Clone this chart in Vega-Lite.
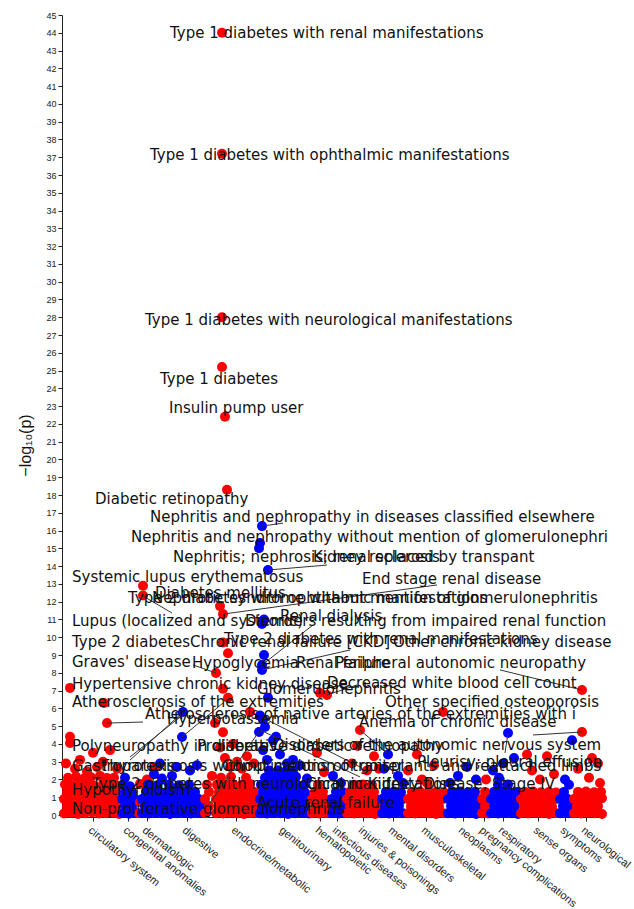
{
"$schema":"https://vega.github.io/schema/vega-lite/v6.json",
"width":542,"height":800,"autosize":"none",
"padding":{"left":62,"top":15,"right":30,"bottom":94},
"background":"white",
"config":{"view":{"stroke":null},"axis":{"grid":false}},
"datasets":{
"thr":[{"y":4.44,"k":"bonferroni"},{"y":1.3,"k":"nominal"}],
"pts":[
{"g":1,"x":2,"y":0.08},{"g":1,"x":9,"y":0.12},{"g":1,"x":16,"y":0.06},{"g":1,"x":23,"y":0.1},{"g":1,"x":30,"y":0.14},{"g":1,"x":37,"y":0.08},{"g":1,"x":44,"y":0.1},{"g":1,"x":51,"y":0.12},{"g":1,"x":57,"y":0.06},
{"g":1,"x":5,"y":0.5},{"g":1,"x":12,"y":0.46},{"g":1,"x":19,"y":0.52},{"g":1,"x":26,"y":0.48},{"g":1,"x":33,"y":0.5},{"g":1,"x":40,"y":0.45},{"g":1,"x":47,"y":0.53},{"g":1,"x":54,"y":0.5},
{"g":1,"x":2,"y":0.9},{"g":1,"x":9,"y":0.88},{"g":1,"x":16,"y":0.94},{"g":1,"x":23,"y":0.9},{"g":1,"x":30,"y":0.86},{"g":1,"x":37,"y":0.92},{"g":1,"x":44,"y":0.9},{"g":1,"x":51,"y":0.95},{"g":1,"x":57,"y":0.88},
{"g":1,"x":5,"y":1.3},{"g":1,"x":12,"y":1.34},{"g":1,"x":19,"y":1.28},{"g":1,"x":26,"y":1.32},{"g":1,"x":33,"y":1.3},{"g":1,"x":40,"y":1.26},{"g":1,"x":47,"y":1.35},{"g":1,"x":54,"y":1.3},
{"g":1,"x":3,"y":1.72},{"g":1,"x":10,"y":1.68},{"g":1,"x":18,"y":1.75},{"g":1,"x":25,"y":1.7},{"g":1,"x":32,"y":1.66},{"g":1,"x":41,"y":1.74},{"g":1,"x":48,"y":1.7},{"g":1,"x":55,"y":1.65},
{"g":1,"x":6,"y":2.1},{"g":1,"x":14,"y":2.15},{"g":1,"x":22,"y":2.05},{"g":1,"x":29,"y":2.12},{"g":1,"x":38,"y":2.2},{"g":1,"x":45,"y":2.08},{"g":1,"x":52,"y":2.1},
{"g":1,"x":8,"y":7.15},{"g":1,"x":42,"y":6.3},{"g":1,"x":45,"y":5.17},{"g":1,"x":8,"y":4.4},{"g":1,"x":8,"y":4.05},{"g":1,"x":31,"y":3.5},{"g":1,"x":48,"y":3.65},{"g":1,"x":41,"y":3.0},{"g":1,"x":25,"y":2.45},{"g":1,"x":13,"y":2.6},{"g":1,"x":35,"y":2.7},{"g":1,"x":18,"y":3.1},{"g":1,"x":55,"y":2.6},{"g":1,"x":4,"y":2.9},
{"g":2,"x":60,"y":0.1},{"g":2,"x":67,"y":0.07},{"g":2,"x":73,"y":0.12},{"g":2,"x":63,"y":0.5},{"g":2,"x":70,"y":0.48},{"g":2,"x":60,"y":0.9},{"g":2,"x":67,"y":0.92},{"g":2,"x":73,"y":0.88},{"g":2,"x":63,"y":1.3},{"g":2,"x":70,"y":1.28},{"g":2,"x":61,"y":1.7},{"g":2,"x":68,"y":1.62},{"g":2,"x":63,"y":2.1},
{"g":3,"x":77,"y":0.1},{"g":3,"x":84,"y":0.3},{"g":3,"x":78,"y":0.7},{"g":3,"x":78,"y":1.75},{"g":3,"x":85,"y":2.0},{"g":3,"x":92,"y":2.6},{"g":3,"x":81,"y":12.9},{"g":3,"x":81,"y":12.35},
{"g":4,"x":80,"y":0.1},{"g":4,"x":87,"y":0.08},{"g":4,"x":94,"y":0.12},{"g":4,"x":101,"y":0.1},{"g":4,"x":108,"y":0.06},{"g":4,"x":115,"y":0.1},{"g":4,"x":122,"y":0.12},{"g":4,"x":129,"y":0.08},{"g":4,"x":136,"y":0.1},
{"g":4,"x":83,"y":0.5},{"g":4,"x":90,"y":0.48},{"g":4,"x":97,"y":0.52},{"g":4,"x":104,"y":0.5},{"g":4,"x":111,"y":0.46},{"g":4,"x":118,"y":0.5},{"g":4,"x":125,"y":0.53},{"g":4,"x":132,"y":0.49},{"g":4,"x":139,"y":0.5},
{"g":4,"x":80,"y":0.9},{"g":4,"x":87,"y":0.92},{"g":4,"x":94,"y":0.88},{"g":4,"x":101,"y":0.9},{"g":4,"x":108,"y":0.94},{"g":4,"x":115,"y":0.9},{"g":4,"x":122,"y":0.86},{"g":4,"x":129,"y":0.9},{"g":4,"x":136,"y":0.92},
{"g":4,"x":84,"y":1.3},{"g":4,"x":91,"y":1.32},{"g":4,"x":98,"y":1.28},{"g":4,"x":105,"y":1.3},{"g":4,"x":112,"y":1.34},{"g":4,"x":119,"y":1.3},{"g":4,"x":126,"y":1.27},{"g":4,"x":133,"y":1.3},
{"g":4,"x":86,"y":1.7},{"g":4,"x":95,"y":1.66},{"g":4,"x":107,"y":1.72},{"g":4,"x":117,"y":1.68},{"g":4,"x":127,"y":1.7},
{"g":4,"x":121,"y":5.79},{"g":4,"x":120,"y":4.39},{"g":4,"x":92,"y":2.3},{"g":4,"x":110,"y":2.2},{"g":4,"x":128,"y":2.5},{"g":4,"x":100,"y":2.05},{"g":4,"x":135,"y":2.8},{"g":4,"x":98,"y":2.9},{"g":4,"x":115,"y":2.7},
{"g":5,"x":143,"y":0.1},{"g":5,"x":147,"y":0.5},{"g":5,"x":143,"y":0.9},{"g":5,"x":147,"y":1.3},{"g":5,"x":145,"y":1.7},{"g":5,"x":150,"y":2.2},
{"g":5,"x":154,"y":0.1},{"g":5,"x":161,"y":0.08},{"g":5,"x":168,"y":0.12},{"g":5,"x":175,"y":0.1},{"g":5,"x":182,"y":0.06},{"g":5,"x":189,"y":0.1},{"g":5,"x":195,"y":0.12},
{"g":5,"x":157,"y":0.5},{"g":5,"x":164,"y":0.48},{"g":5,"x":171,"y":0.52},{"g":5,"x":178,"y":0.5},{"g":5,"x":185,"y":0.46},{"g":5,"x":192,"y":0.5},
{"g":5,"x":154,"y":0.9},{"g":5,"x":161,"y":0.92},{"g":5,"x":168,"y":0.88},{"g":5,"x":175,"y":0.9},{"g":5,"x":182,"y":0.94},{"g":5,"x":189,"y":0.9},{"g":5,"x":195,"y":0.86},
{"g":5,"x":157,"y":1.3},{"g":5,"x":164,"y":1.32},{"g":5,"x":171,"y":1.28},{"g":5,"x":178,"y":1.3},{"g":5,"x":185,"y":1.34},{"g":5,"x":192,"y":1.3},
{"g":5,"x":155,"y":1.7},{"g":5,"x":163,"y":1.72},{"g":5,"x":172,"y":1.68},{"g":5,"x":180,"y":1.7},{"g":5,"x":188,"y":1.74},
{"g":5,"x":159,"y":2.1},{"g":5,"x":169,"y":2.15},{"g":5,"x":184,"y":2.1},
{"g":5,"x":160,"y":44.0},{"g":5,"x":160,"y":37.2},{"g":5,"x":160,"y":28.0},{"g":5,"x":160,"y":25.2},{"g":5,"x":163,"y":22.4},{"g":5,"x":165,"y":18.3},{"g":5,"x":158,"y":11.75},{"g":5,"x":161,"y":11.3},{"g":5,"x":161,"y":9.7},{"g":5,"x":166,"y":9.1},{"g":5,"x":154,"y":7.99},{"g":5,"x":161,"y":7.1},{"g":5,"x":166,"y":6.6},{"g":5,"x":188,"y":5.8},{"g":5,"x":153,"y":5.17},{"g":5,"x":161,"y":4.65},{"g":5,"x":171,"y":4.0},{"g":5,"x":158,"y":3.8},{"g":5,"x":185,"y":3.3},{"g":5,"x":175,"y":3.0},{"g":5,"x":168,"y":2.7},{"g":5,"x":180,"y":2.6},{"g":5,"x":192,"y":2.9},{"g":5,"x":163,"y":3.2},
{"g":6,"x":198,"y":0.1},{"g":6,"x":205,"y":0.08},{"g":6,"x":212,"y":0.12},{"g":6,"x":219,"y":0.1},{"g":6,"x":226,"y":0.06},{"g":6,"x":233,"y":0.1},{"g":6,"x":240,"y":0.12},{"g":6,"x":247,"y":0.08},
{"g":6,"x":201,"y":0.5},{"g":6,"x":208,"y":0.48},{"g":6,"x":215,"y":0.52},{"g":6,"x":222,"y":0.5},{"g":6,"x":229,"y":0.46},{"g":6,"x":236,"y":0.5},{"g":6,"x":243,"y":0.53},
{"g":6,"x":198,"y":0.9},{"g":6,"x":205,"y":0.92},{"g":6,"x":212,"y":0.88},{"g":6,"x":219,"y":0.9},{"g":6,"x":226,"y":0.94},{"g":6,"x":233,"y":0.9},{"g":6,"x":240,"y":0.86},{"g":6,"x":247,"y":0.9},
{"g":6,"x":201,"y":1.3},{"g":6,"x":208,"y":1.32},{"g":6,"x":215,"y":1.28},{"g":6,"x":222,"y":1.3},{"g":6,"x":229,"y":1.34},{"g":6,"x":236,"y":1.3},{"g":6,"x":243,"y":1.27},
{"g":6,"x":199,"y":1.7},{"g":6,"x":206,"y":1.72},{"g":6,"x":214,"y":1.68},{"g":6,"x":221,"y":1.7},{"g":6,"x":228,"y":1.74},{"g":6,"x":235,"y":1.7},{"g":6,"x":242,"y":1.66},
{"g":6,"x":203,"y":2.1},{"g":6,"x":211,"y":2.12},{"g":6,"x":219,"y":2.08},{"g":6,"x":227,"y":2.1},{"g":6,"x":234,"y":2.15},{"g":6,"x":245,"y":2.05},
{"g":6,"x":207,"y":2.5},{"g":6,"x":216,"y":2.52},{"g":6,"x":224,"y":2.48},{"g":6,"x":231,"y":2.5},
{"g":6,"x":200,"y":16.25},{"g":6,"x":198,"y":15.3},{"g":6,"x":197,"y":15.0},{"g":6,"x":206,"y":13.78},{"g":6,"x":202,"y":11.0},{"g":6,"x":200,"y":10.75},{"g":6,"x":202,"y":9.0},{"g":6,"x":200,"y":8.44},{"g":6,"x":200,"y":8.16},{"g":6,"x":206,"y":6.6},{"g":6,"x":198,"y":5.6},{"g":6,"x":201,"y":5.35},{"g":6,"x":203,"y":4.95},{"g":6,"x":197,"y":4.67},{"g":6,"x":211,"y":4.2},{"g":6,"x":214,"y":4.4},{"g":6,"x":201,"y":3.65},{"g":6,"x":218,"y":3.4},{"g":6,"x":231,"y":3.1},{"g":6,"x":205,"y":3.1},{"g":6,"x":225,"y":2.9},{"g":6,"x":238,"y":2.8},
{"g":7,"x":250,"y":0.1},{"g":7,"x":257,"y":0.08},{"g":7,"x":264,"y":0.12},{"g":7,"x":253,"y":0.5},{"g":7,"x":260,"y":0.48},{"g":7,"x":267,"y":0.52},{"g":7,"x":250,"y":0.9},{"g":7,"x":257,"y":0.92},{"g":7,"x":264,"y":0.88},{"g":7,"x":253,"y":1.3},{"g":7,"x":261,"y":1.32},{"g":7,"x":256,"y":1.7},{"g":7,"x":258,"y":6.86},{"g":7,"x":265,"y":6.75},{"g":7,"x":255,"y":3.5},{"g":7,"x":262,"y":2.4},
{"g":8,"x":270,"y":0.1},{"g":8,"x":277,"y":0.08},{"g":8,"x":283,"y":0.12},{"g":8,"x":273,"y":0.5},{"g":8,"x":280,"y":0.48},{"g":8,"x":270,"y":0.9},{"g":8,"x":277,"y":0.92},{"g":8,"x":283,"y":0.88},{"g":8,"x":274,"y":1.3},{"g":8,"x":281,"y":1.28},{"g":8,"x":271,"y":2.2},{"g":8,"x":279,"y":1.8},
{"g":9,"x":285,"y":0.1},{"g":9,"x":292,"y":0.08},{"g":9,"x":299,"y":0.12},{"g":9,"x":306,"y":0.1},{"g":9,"x":313,"y":0.06},{"g":9,"x":318,"y":0.1},
{"g":9,"x":288,"y":0.5},{"g":9,"x":295,"y":0.48},{"g":9,"x":302,"y":0.52},{"g":9,"x":309,"y":0.5},{"g":9,"x":316,"y":0.46},
{"g":9,"x":285,"y":0.9},{"g":9,"x":292,"y":0.92},{"g":9,"x":299,"y":0.88},{"g":9,"x":306,"y":0.9},{"g":9,"x":313,"y":0.94},
{"g":9,"x":288,"y":1.3},{"g":9,"x":296,"y":1.32},{"g":9,"x":304,"y":1.28},{"g":9,"x":312,"y":1.3},
{"g":9,"x":292,"y":1.7},{"g":9,"x":301,"y":1.72},{"g":9,"x":310,"y":1.68},
{"g":9,"x":298,"y":4.78},{"g":9,"x":295,"y":3.9},{"g":9,"x":312,"y":3.3},{"g":9,"x":305,"y":2.5},{"g":9,"x":290,"y":2.9},{"g":9,"x":317,"y":2.6},
{"g":10,"x":320,"y":0.1},{"g":10,"x":327,"y":0.08},{"g":10,"x":334,"y":0.12},{"g":10,"x":341,"y":0.1},{"g":10,"x":323,"y":0.5},{"g":10,"x":330,"y":0.48},{"g":10,"x":337,"y":0.52},{"g":10,"x":320,"y":0.9},{"g":10,"x":327,"y":0.92},{"g":10,"x":334,"y":0.88},{"g":10,"x":341,"y":0.9},{"g":10,"x":324,"y":1.3},{"g":10,"x":332,"y":1.32},{"g":10,"x":339,"y":1.28},{"g":10,"x":326,"y":3.4},{"g":10,"x":336,"y":2.2},{"g":10,"x":322,"y":2.6},{"g":10,"x":341,"y":1.8},
{"g":11,"x":346,"y":0.1},{"g":11,"x":353,"y":0.08},{"g":11,"x":360,"y":0.12},{"g":11,"x":367,"y":0.1},{"g":11,"x":374,"y":0.06},{"g":11,"x":381,"y":0.1},
{"g":11,"x":349,"y":0.5},{"g":11,"x":356,"y":0.48},{"g":11,"x":363,"y":0.52},{"g":11,"x":370,"y":0.5},{"g":11,"x":377,"y":0.46},
{"g":11,"x":346,"y":0.9},{"g":11,"x":353,"y":0.92},{"g":11,"x":360,"y":0.88},{"g":11,"x":367,"y":0.9},{"g":11,"x":374,"y":0.94},{"g":11,"x":381,"y":0.9},
{"g":11,"x":350,"y":1.3},{"g":11,"x":358,"y":1.32},{"g":11,"x":366,"y":1.28},{"g":11,"x":374,"y":1.3},{"g":11,"x":382,"y":1.26},
{"g":11,"x":381,"y":5.8},{"g":11,"x":346,"y":2.5},{"g":11,"x":360,"y":2.0},{"g":11,"x":372,"y":2.8},{"g":11,"x":355,"y":3.4},{"g":11,"x":365,"y":1.8},
{"g":12,"x":386,"y":0.1},{"g":12,"x":393,"y":0.08},{"g":12,"x":400,"y":0.12},{"g":12,"x":407,"y":0.1},{"g":12,"x":414,"y":0.06},
{"g":12,"x":389,"y":0.5},{"g":12,"x":396,"y":0.48},{"g":12,"x":403,"y":0.52},{"g":12,"x":410,"y":0.5},{"g":12,"x":417,"y":0.46},
{"g":12,"x":386,"y":0.9},{"g":12,"x":393,"y":0.92},{"g":12,"x":400,"y":0.88},{"g":12,"x":407,"y":0.9},{"g":12,"x":414,"y":0.94},
{"g":12,"x":390,"y":1.3},{"g":12,"x":398,"y":1.32},{"g":12,"x":406,"y":1.28},{"g":12,"x":413,"y":1.3},
{"g":12,"x":396,"y":2.2},{"g":12,"x":405,"y":2.7},{"g":12,"x":414,"y":2.0},{"g":12,"x":388,"y":1.8},
{"g":13,"x":420,"y":0.1},{"g":13,"x":426,"y":0.08},{"g":13,"x":423,"y":0.5},{"g":13,"x":420,"y":0.9},{"g":13,"x":426,"y":0.92},{"g":13,"x":423,"y":1.3},{"g":13,"x":424,"y":2.0},
{"g":14,"x":429,"y":0.1},{"g":14,"x":436,"y":0.08},{"g":14,"x":443,"y":0.12},{"g":14,"x":450,"y":0.1},{"g":14,"x":456,"y":0.06},
{"g":14,"x":432,"y":0.5},{"g":14,"x":439,"y":0.48},{"g":14,"x":446,"y":0.52},{"g":14,"x":453,"y":0.5},
{"g":14,"x":429,"y":0.9},{"g":14,"x":436,"y":0.92},{"g":14,"x":443,"y":0.88},{"g":14,"x":450,"y":0.9},{"g":14,"x":456,"y":0.94},
{"g":14,"x":432,"y":1.3},{"g":14,"x":440,"y":1.32},{"g":14,"x":448,"y":1.28},{"g":14,"x":455,"y":1.3},
{"g":14,"x":436,"y":1.7},{"g":14,"x":446,"y":1.72},
{"g":14,"x":446,"y":4.61},{"g":14,"x":431,"y":2.5},{"g":14,"x":441,"y":2.9},{"g":14,"x":452,"y":3.2},{"g":14,"x":437,"y":2.1},
{"g":15,"x":459,"y":0.1},{"g":15,"x":466,"y":0.08},{"g":15,"x":473,"y":0.12},{"g":15,"x":480,"y":0.1},{"g":15,"x":487,"y":0.06},{"g":15,"x":494,"y":0.1},
{"g":15,"x":462,"y":0.5},{"g":15,"x":469,"y":0.48},{"g":15,"x":476,"y":0.52},{"g":15,"x":483,"y":0.5},{"g":15,"x":490,"y":0.46},
{"g":15,"x":459,"y":0.9},{"g":15,"x":466,"y":0.92},{"g":15,"x":473,"y":0.88},{"g":15,"x":480,"y":0.9},{"g":15,"x":487,"y":0.94},{"g":15,"x":494,"y":0.9},
{"g":15,"x":463,"y":1.3},{"g":15,"x":471,"y":1.32},{"g":15,"x":479,"y":1.28},{"g":15,"x":487,"y":1.3},{"g":15,"x":494,"y":1.27},
{"g":15,"x":465,"y":3.4},{"g":15,"x":485,"y":3.3},{"g":15,"x":470,"y":2.5},{"g":15,"x":492,"y":2.3},{"g":15,"x":478,"y":2.0},
{"g":16,"x":498,"y":0.1},{"g":16,"x":505,"y":0.12},{"g":16,"x":501,"y":0.5},{"g":16,"x":508,"y":0.48},{"g":16,"x":498,"y":0.9},{"g":16,"x":505,"y":0.92},{"g":16,"x":502,"y":1.3},{"g":16,"x":510,"y":4.2},{"g":16,"x":503,"y":2.0},{"g":16,"x":507,"y":1.7},
{"g":17,"x":512,"y":0.1},{"g":17,"x":519,"y":0.08},{"g":17,"x":526,"y":0.12},{"g":17,"x":533,"y":0.1},{"g":17,"x":540,"y":0.06},
{"g":17,"x":515,"y":0.5},{"g":17,"x":522,"y":0.48},{"g":17,"x":529,"y":0.52},{"g":17,"x":536,"y":0.5},
{"g":17,"x":512,"y":0.9},{"g":17,"x":519,"y":0.92},{"g":17,"x":526,"y":0.88},{"g":17,"x":533,"y":0.9},{"g":17,"x":540,"y":0.94},
{"g":17,"x":516,"y":1.3},{"g":17,"x":524,"y":1.32},{"g":17,"x":532,"y":1.28},{"g":17,"x":539,"y":1.3},
{"g":17,"x":520,"y":7.03},{"g":17,"x":520,"y":4.67},{"g":17,"x":536,"y":2.9},{"g":17,"x":516,"y":2.6},{"g":17,"x":527,"y":2.1},{"g":17,"x":538,"y":1.8},{"g":17,"x":530,"y":3.2}
],
"seg":[
{"x":200,"y":16.25,"x2":221,"y2":16.42},{"x":206,"y":13.78,"x2":265,"y2":14.06},{"x":81,"y":12.32,"x2":110,"y2":11.36},{"x":161,"y":11.3,"x2":375,"y2":12.94},
{"x":154,"y":7.99,"x2":131,"y2":8.44},{"x":200,"y":8.44,"x2":251,"y2":10.69},{"x":200,"y":8.16,"x2":288,"y2":9.28},{"x":520,"y":7.03,"x2":438,"y2":8.16},
{"x":45,"y":5.17,"x2":81,"y2":5.23},{"x":121,"y":5.79,"x2":68,"y2":3.09},{"x":298,"y":4.78,"x2":325,"y2":3.49},{"x":520,"y":4.67,"x2":471,"y2":4.5},
{"x":446,"y":4.61,"x2":443,"y2":3.49},{"x":200,"y":5.5,"x2":298,"y2":2.7},{"x":198,"y":4.78,"x2":298,"y2":2.14},{"x":198,"y":4.78,"x2":148,"y2":0.67},
{"x":120,"y":4.39,"x2":161,"y2":6.3},{"x":68,"y":3.26,"x2":118,"y2":5.51},{"x":265,"y":6.75,"x2":295,"y2":7.31}
],
"lab":[
{"x":108,"y":44.0,"label":"Type 1 diabetes with renal manifestations"},
{"x":88,"y":37.12,"label":"Type 1 diabetes with ophthalmic manifestations"},
{"x":83,"y":27.84,"label":"Type 1 diabetes with neurological manifestations"},
{"x":98,"y":24.52,"label":"Type 1 diabetes"},
{"x":107,"y":22.89,"label":"Insulin pump user"},
{"x":33,"y":17.77,"label":"Diabetic retinopathy"},
{"x":88,"y":16.76,"label":"Nephritis and nephropathy in diseases classified elsewhere"},
{"x":69,"y":15.64,"label":"Nephritis and nephropathy without mention of glomerulonephri"},
{"x":111,"y":14.51,"label":"Nephritis; nephrosis; renal sclerosis"},
{"x":251,"y":14.51,"label":"Kidney replaced by transpant"},
{"x":10,"y":13.39,"label":"Systemic lupus erythematosus"},
{"x":300,"y":13.27,"label":"End stage renal disease"},
{"x":93,"y":12.49,"label":"Diabetes mellitus"},
{"x":66,"y":12.2,"label":"Type 2 diabetes with ophthalmic manifestations"},
{"x":90,"y":12.2,"label":"Nephrotic syndrome without mention of glomerulonephritis"},
{"x":10,"y":10.91,"label":"Lupus (localized and systemic)"},
{"x":183,"y":10.91,"label":"Disorders resulting from impaired renal function"},
{"x":218,"y":11.19,"label":"Renal dialysis"},
{"x":10,"y":9.73,"label":"Type 2 diabetes"},
{"x":128,"y":9.73,"label":"Chronic renal failure [CKD]"},
{"x":162,"y":9.9,"label":"Type 2 diabetes with renal manifestations"},
{"x":331,"y":9.73,"label":"Other chronic kidney disease"},
{"x":10,"y":8.6,"label":"Graves' disease"},
{"x":130,"y":8.55,"label":"Hypoglycemia"},
{"x":234,"y":8.55,"label":"Renal failure"},
{"x":273,"y":8.55,"label":"Peripheral autonomic neuropathy"},
{"x":10,"y":7.37,"label":"Hypertensive chronic kidney disease"},
{"x":195,"y":7.09,"label":"Glomerulonephritis"},
{"x":265,"y":7.42,"label":"Decreased white blood cell count"},
{"x":10,"y":6.36,"label":"Atherosclerosis of the extremities"},
{"x":323,"y":6.36,"label":"Other specified osteoporosis"},
{"x":83,"y":5.68,"label":"Atherosclerosis of native arteries of the extremities with i"},
{"x":105,"y":5.4,"label":"Hyperpotassemia"},
{"x":297,"y":5.23,"label":"Anemia of chronic disease"},
{"x":10,"y":3.88,"label":"Polyneuropathy in diabetes"},
{"x":135,"y":3.88,"label":"Proliferative diabetic retinopathy"},
{"x":211,"y":3.94,"label":"Disorders of the autonomic nervous system"},
{"x":10,"y":2.76,"label":"Gastroparesis"},
{"x":38,"y":2.76,"label":"Thyrotoxicosis without mention of goiter"},
{"x":160,"y":2.76,"label":"Complications of transplants and reattached limbs"},
{"x":355,"y":2.98,"label":"Pleurisy; pleural effusion"},
{"x":30,"y":1.74,"label":"Type 2 diabetes with neurological manifestations"},
{"x":244,"y":1.74,"label":"Chronic Kidney Disease, Stage IV"},
{"x":10,"y":1.41,"label":"Hypothyroidism"},
{"x":195,"y":0.67,"label":"Acute renal failure"},
{"x":10,"y":0.34,"label":"Non-proliferative glomerulonephritis"}
]
},
"resolve":{"scale":{"color":"independent"}},
"encoding":{
  "x":{"field":"x","type":"quantitative","scale":{"domain":[0,542],"nice":false,"zero":false},
   "axis":{"title":null,"values":[31,66,85,125,174,222,258,275,301,331,364,401,422,441,476,503,524],
    "labelExpr":"['circulatory system','congenital anomalies','dermatologic','digestive','endocrine/metabolic','genitourinary','hematopoietic','infectious diseases','injuries & poisonings','mental disorders','musculoskeletal','neoplasms','pregnancy complications','respiratory','sense organs','symptoms','neurological'][indexof([31,66,85,125,174,222,258,275,301,331,364,401,422,441,476,503,524], datum.value)]",
    "labelAngle":39,"labelAlign":"left","labelBaseline":"top","labelFont":"Liberation Sans","labelFontSize":11,"labelColor":"#222","labelOverlap":false,"labelFlush":false,"labelBound":false,"labelPadding":3,
    "tickSize":4,"tickColor":"#222","domainColor":"#222","offset":2}},
  "y":{"field":"y","type":"quantitative","scale":{"domain":[0,45],"nice":false},
   "axis":{"title":"−log₁₀(p)","values":[0,1,2,3,4,5,6,7,8,9,10,11,12,13,14,15,16,17,18,19,20,21,22,23,24,25,26,27,28,29,30,31,32,33,34,35,36,37,38,39,40,41,42,43,44,45],
    "labelFont":"Liberation Sans","labelFontSize":9,"labelColor":"#222","labelOverlap":false,"labelPadding":2,"tickSize":4,"tickColor":"#222","domainColor":"#222",
    "titleFont":"Liberation Sans","titleFontSize":16,"titleFontWeight":"normal","titleColor":"#111","titleX":-29,"titleY":430}}
},
"layer":[
{"data":{"name":"thr"},"mark":{"type":"rule","strokeWidth":1.5},
 "encoding":{"x":{"datum":0,"type":"quantitative"},"x2":{"datum":542},
  "color":{"field":"k","type":"nominal","scale":{"domain":["bonferroni","nominal"],"range":["#ff9c9c","#a8a8ff"]},"legend":null}}},
{"data":{"name":"pts"},"mark":{"type":"circle","size":100,"opacity":1},
 "encoding":{
  "color":{"field":"g","type":"nominal","scale":{"domain":[1,2,3,4,5,6,7,8,9,10,11,12,13,14,15,16,17],"range":["#ff0000","#0000ff","#ff0000","#0000ff","#ff0000","#0000ff","#ff0000","#0000ff","#ff0000","#0000ff","#ff0000","#0000ff","#ff0000","#0000ff","#ff0000","#0000ff","#ff0000"]},"legend":null}}},
{"data":{"name":"seg"},"mark":{"type":"rule","color":"#333","strokeWidth":1},
 "encoding":{"x2":{"field":"x2"},"y2":{"field":"y2"}}},
{"data":{"name":"lab"},"mark":{"type":"text","align":"left","baseline":"middle","font":"DejaVu Sans","fontSize":15,"color":"#111"},
 "encoding":{"text":{"field":"label"}}}
]
}
